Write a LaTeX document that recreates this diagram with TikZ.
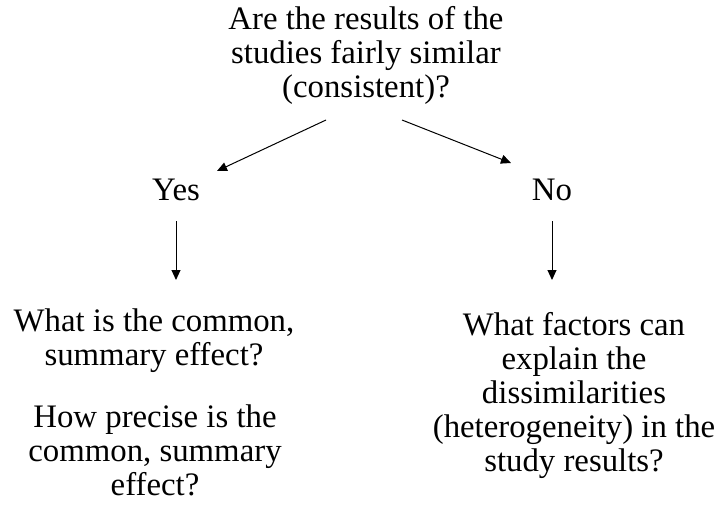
\documentclass[tikz,border=0pt]{standalone}
\usepackage{fontspec}
\setmainfont{Liberation Serif}
\usetikzlibrary{arrows.meta}
\begin{document}
\begin{tikzpicture}[x=1pt,y=-1pt,
  txt/.style={align=center,inner sep=0pt,font=\fontsize{32.8}{34}\selectfont},
  arr/.style={line width=1pt,-{Triangle[length=10pt,width=9pt]}}]
\useasboundingbox (0,0) rectangle (721,511);
\node[txt] (top) at (366,55) {Are the results of the\\studies fairly similar\\(consistent)?};
\node[txt] (yes) at (176,190) {Yes};
\node[txt] (no) at (552,190) {No};
\node[txt] (q1) at (154,341) {What is the common,\\summary effect?};
\node[txt] (q2) at (155,450) {How precise is the\\common, summary\\effect?};
\node[txt] (q3) at (574,395) {What factors can\\explain the\\dissimilarities\\(heterogeneity) in the\\study results?};
\coordinate (a1) at (326,120);
\coordinate (b1) at (217,171);
\coordinate (a2) at (402,120);
\coordinate (b2) at (511,163);
\coordinate (c1) at (176,221);
\coordinate (d1) at (176,280);
\coordinate (c2) at (552,221);
\coordinate (d2) at (552,280);
\draw[arr] (a1) -- (b1);
\draw[arr] (a2) -- (b2);
\draw[arr] (c1) -- (d1);
\draw[arr] (c2) -- (d2);
\end{tikzpicture}
\end{document}
